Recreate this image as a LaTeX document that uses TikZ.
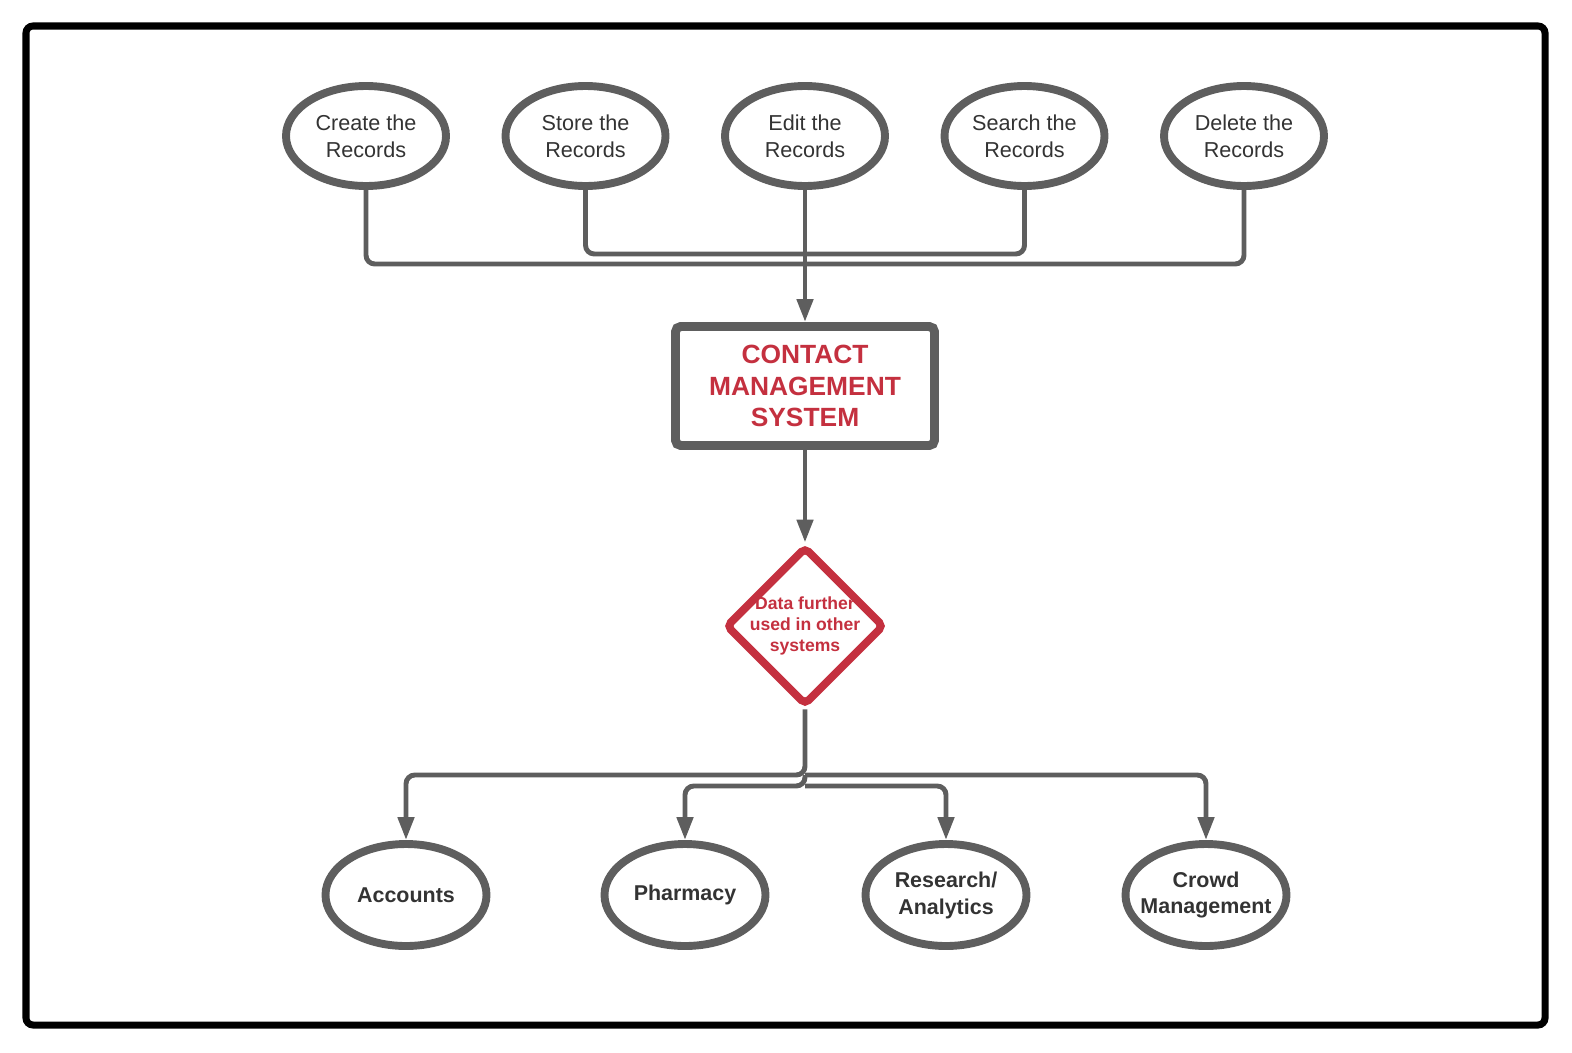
\documentclass[tikz,border=0pt]{standalone}
\usepackage{fontspec}
\setmainfont{Liberation Sans}
\usetikzlibrary{shapes.geometric,arrows.meta}
\definecolor{linegray}{HTML}{5E5E5E}
\definecolor{textgray}{HTML}{333333}
\definecolor{cmsred}{HTML}{C4303F}
\tikzset{
  task/.style={draw=linegray, line width=4.5pt, ellipse, minimum width=3.2cm, minimum height=2cm, inner sep=0pt, align=center, text=textgray, font=\fontsize{12.3}{15.3}\selectfont},
  target/.style={task, minimum width=3.22cm, minimum height=2.04cm, inner sep=-8pt, font=\bfseries\fontsize{12.2}{15.3}\selectfont},
  system/.style={draw=linegray, line width=5.1pt, rectangle, rounded corners=3pt, minimum width=5.18cm, minimum height=2.38cm, align=center, text=cmsred, font=\bfseries\fontsize{15}{18}\selectfont},
  decision/.style={draw=cmsred, line width=4.5pt, diamond, minimum width=3.18cm, minimum height=3.18cm, inner sep=0pt, rounded corners=3pt},
  decisiontext/.style={align=center, text=cmsred, font=\bfseries\fontsize{10}{12}\selectfont},
  link/.style={draw=linegray, line width=2.8pt, rounded corners=5pt},
  arrowlink/.style={link, -{Triangle[length=13pt, width=9pt]}},
}
\begin{document}
\begin{tikzpicture}
    \useasboundingbox (0,0) rectangle (31.44,-21.04);
    \draw[line width=4pt, rounded corners=4pt] (0.52,-0.52) rectangle (30.9,-20.5);
    % operations on the records
    \node[task] (create) at (7.32,-2.72) {Create the\\Records};
    \node[task] (store) at (11.71,-2.72) {Store the\\Records};
    \node[task] (edit) at (16.1,-2.72) {Edit the\\Records};
    \node[task] (search) at (20.49,-2.72) {Search the\\Records};
    \node[task] (delete) at (24.88,-2.72) {Delete the\\Records};
    \coordinate (busup) at (16.1,-5.08);
    \coordinate (buslow) at (16.1,-5.28);
    % main system and decision
    \node[system] (cms) at (16.1,-7.72) {CONTACT\\MANAGEMENT\\SYSTEM};
    \node[decision] (dia) at (16.1,-12.52) {};
    \node[decisiontext] (diatext) at (dia.center) {Data further\\used in other\\systems};
    % other systems
    \coordinate (busout) at (16.1,-15.5);
    \coordinate (busin) at (16.1,-15.72);
    \node[target] (accounts) at (8.12,-17.9) {Accounts};
    \node[target] (pharmacy) at (13.7,-17.9) {Pharmacy};
    \node[target] (research) at (18.92,-17.9) {Research/\\Analytics};
    \node[target] (crowd) at (24.12,-17.9) {Crowd\\Management};
    % connectors
    \draw[link] (create.south) |- (buslow) -| (delete.south);
    \draw[link] (store.south) |- (busup) -| (search.south);
    \draw[arrowlink] (edit) -- (cms);
    \draw[arrowlink] (cms) -- (dia);
    \draw[arrowlink] (dia.south) -- (busout) -| (accounts.north);
    \draw[arrowlink] (busout) -| (crowd.north);
    \draw[arrowlink] (busout) -- (busin) -| (pharmacy.north);
    \draw[arrowlink] (busin) -| (research.north);
\end{tikzpicture}
\end{document}
